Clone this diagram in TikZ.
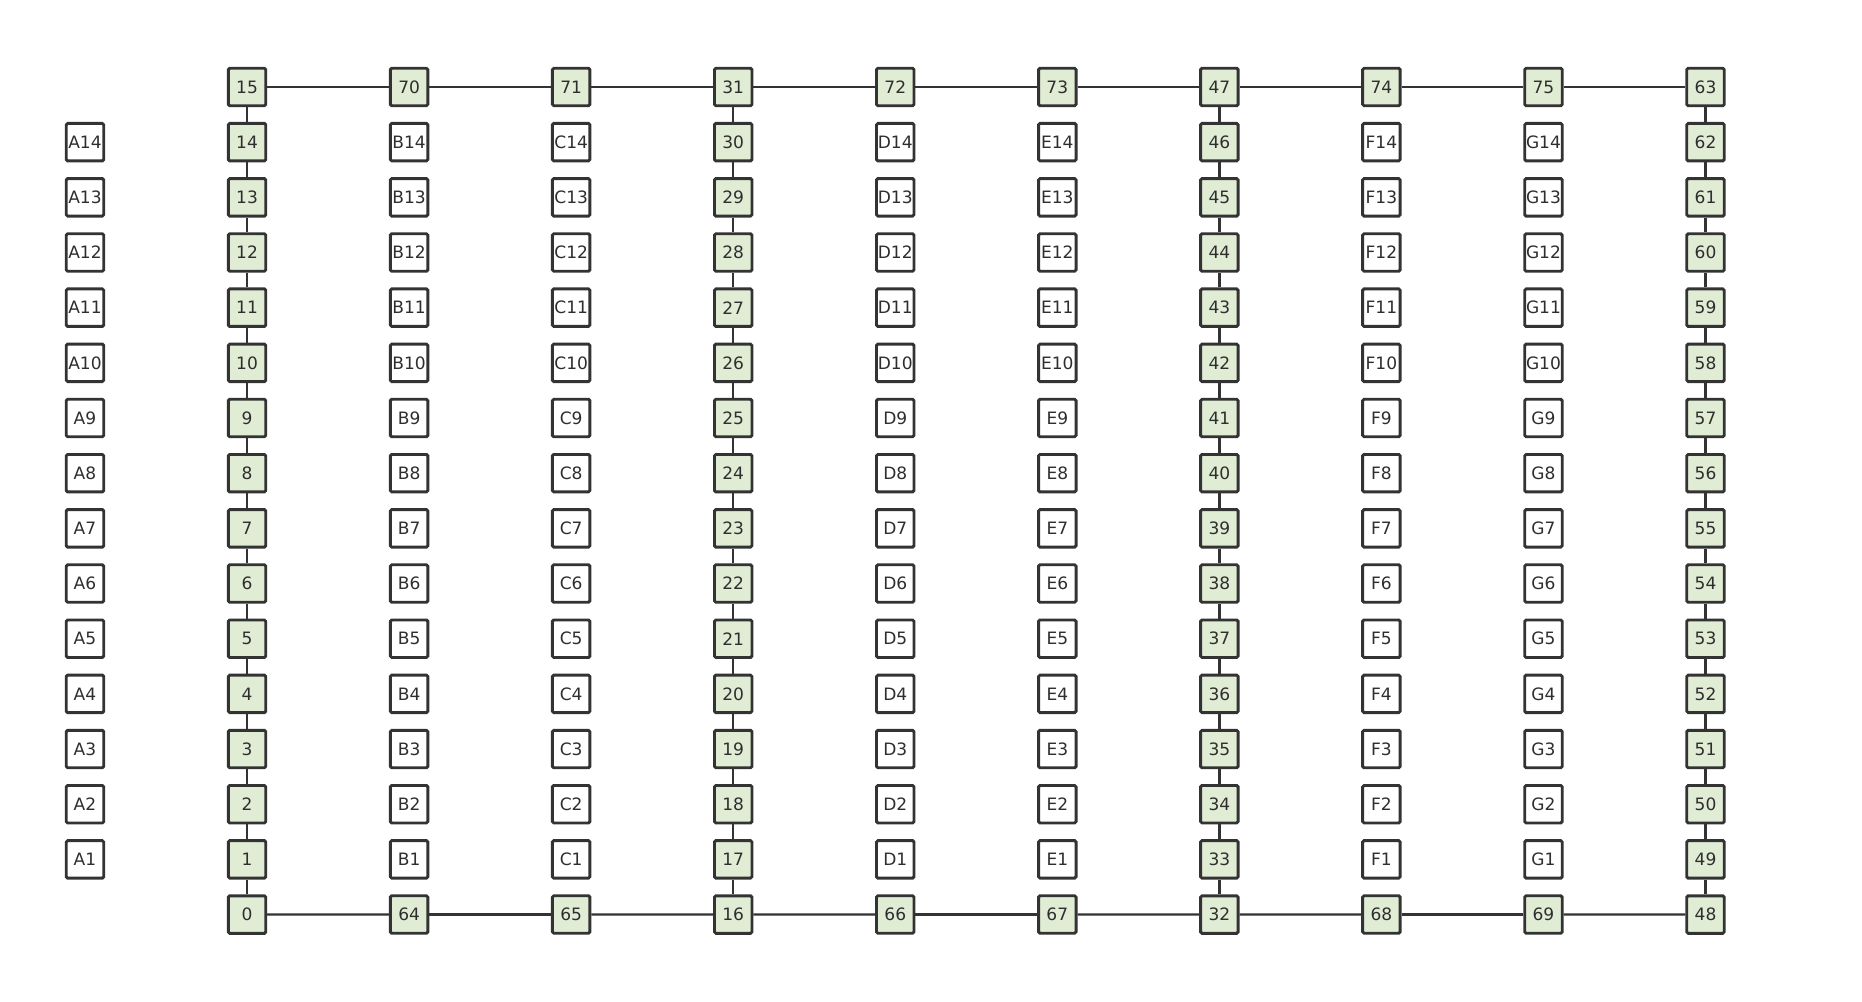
\documentclass[tikz,border=0pt]{standalone}
\usepackage{fontspec}
\setmainfont{DejaVu Sans}
\usetikzlibrary{positioning}
\definecolor{edge}{HTML}{333333}
\definecolor{ink}{HTML}{2E2E2E}
\definecolor{leaf}{HTML}{E1ECD5}

\begin{document}
\begin{tikzpicture}[
		x=0.02cm, y=-0.02cm,
		% Estilos de las celdas
		cell/.style={draw=edge, rectangle, line width=1.65pt, minimum size=0.75cm, inner sep=0pt, rounded corners=0.8pt, text=ink, font=\fontsize{9.7}{11}\selectfont},
		free/.style={cell, fill=white},
		chain/.style={cell, fill=leaf},
		link/.style={draw=edge, line width=1.35pt}
		]
		\useasboundingbox (0,0) rectangle (1862,1001);
		
		% --- CADENAS VERDES (COLUMNAS) ---
		\foreach \c/\base in {1/0, 4/16, 7/32, 10/48} {
			\foreach \k in {0,...,15} {
				\pgfmathsetmacro{\px}{85+162.05*\c}
				\pgfmathsetmacro{\py}{87+55.17*(15-\k)}
				\pgfmathtruncatemacro{\num}{\base+\k}
				\node [chain] (n\num) at (\px,\py) {\num};
			}
		}
		
		% Fila superior e inferior
		\foreach \c/\num in {2/70, 3/71, 5/72, 6/73, 8/74, 9/75} {
			\pgfmathsetmacro{\px}{85+162.05*\c}
			\node [chain] (n\num) at (\px,87) {\num};
		}
		\foreach \c/\num in {2/64, 3/65, 5/66, 6/67, 8/68, 9/69} {
			\pgfmathsetmacro{\px}{85+162.05*\c}
			\node [chain] (n\num) at (\px,914.5) {\num};
		}
		
		% --- CELDAS LIBRES ---
		\foreach \c/\l in {0/A, 2/B, 3/C, 5/D, 6/E, 8/F, 9/G} {
			\foreach \k in {1,...,14} {
				\pgfmathsetmacro{\px}{85+162.05*\c}
				\pgfmathsetmacro{\py}{87+55.17*(15-\k)}
				\node [free] (\l\k) at (\px,\py) {\l\k};
			}
		}
		
		% --- ENLACES VERTICALES ---
		\foreach \base in {0, 16, 32, 48} {
			\foreach \k in {0,...,14} {
				\pgfmathtruncatemacro{\a}{\base+\k}
				\pgfmathtruncatemacro{\b}{\base+\k+1}
				\draw [link] (n\a) -- (n\b);
			}
		}
		
		% --- ENLACES HORIZONTALES ---
		\foreach \a/\b in {15/70, 70/71, 71/31, 31/72, 72/73, 73/47, 47/74, 74/75, 75/63,
			0/64, 64/65, 65/16, 16/66, 66/67, 67/32, 32/68, 68/69, 69/48}
			\draw [link] (n\a) -- (n\b);
		
	\end{tikzpicture}
\end{document}
